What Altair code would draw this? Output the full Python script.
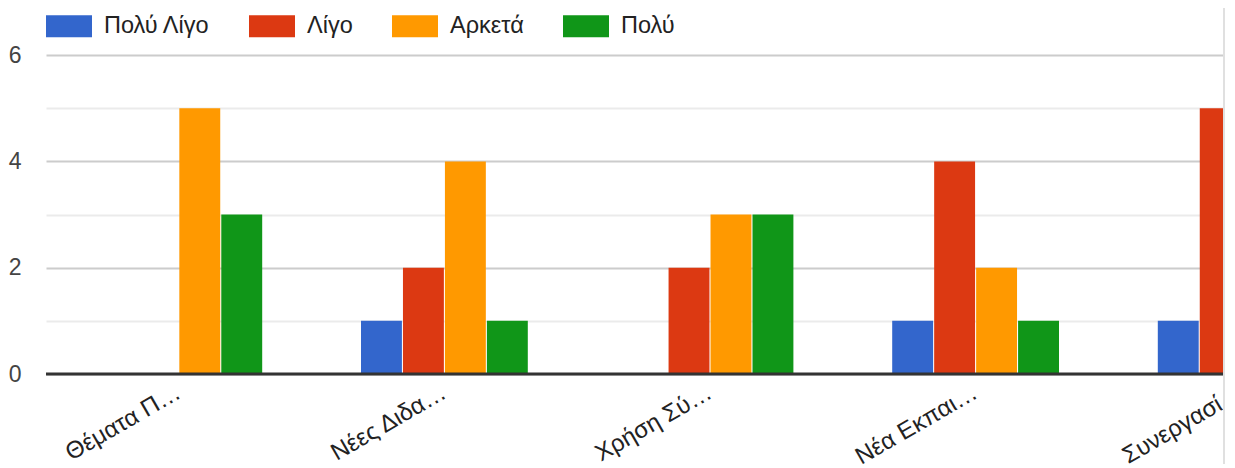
import altair as alt
import pandas as pd

categories = ["Θέματα Π…", "Νέες Διδα…", "Χρήση Σύ…", "Νέα Εκπαι…", "Συνεργασί…"]
series = ["Πολύ Λίγο", "Λίγο", "Αρκετά", "Πολύ"]
values_poly_ligo = [0, 1, 0, 1, 1]
values_ligo = [0, 2, 2, 4, 5]
values_arketa = [5, 4, 3, 2, 1]
values_poly = [3, 1, 3, 1, 1]
colors = ["#3366cc", "#dc3912", "#ff9900", "#109618"]
y_ticks = [0, 1, 2, 3, 4, 5, 6, 7]

rows = []
for i, c in enumerate(categories):
    for s, vals in zip(series, [values_poly_ligo, values_ligo, values_arketa, values_poly]):
        rows.append({"cat": c, "series": s, "value": vals[i]})
df = pd.DataFrame(rows)

W = 1177
H = 372
FONT = "Liberation Sans"

bars = alt.Chart(df).mark_bar(clip=True).encode(
    x=alt.X(
        "cat:N",
        sort=categories,
        scale=alt.Scale(range=[0, 1328], paddingInner=0.372, paddingOuter=0.186),
        axis=alt.Axis(
            title=None, domain=False, ticks=False, grid=False,
            labelAngle=-30, labelAlign="right", labelBaseline="top",
            labelPadding=6, labelOffset=-6, labelFont=FONT, labelFontSize=24,
            labelColor="#222222", labelOverlap=False, labelLimit=400,
        ),
    ),
    xOffset=alt.XOffset("series:N", sort=series, scale=alt.Scale(paddingInner=0.025)),
    y=alt.Y(
        "value:Q",
        scale=alt.Scale(domain=[0, 7], nice=False),
        axis=alt.Axis(
            title=None, domain=False, ticks=False, values=y_ticks,
            labelExpr="datum.value % 2 == 0 ? toString(datum.value) : ''",
            labelFont=FONT, labelFontSize=23, labelColor="#444444", labelPadding=25,
            grid=True, gridWidth=2,
            gridColor={"condition": {"test": "datum.value % 2 == 0", "value": "#cccccc"}, "value": "#ebebeb"},
        ),
    ),
    color=alt.Color(
        "series:N",
        sort=series,
        scale=alt.Scale(domain=series, range=colors),
        legend=alt.Legend(
            title=None, orient="none", legendX=0, legendY=1, direction="horizontal",
            symbolType="M-1,-0.478H1V0.478H-1Z", symbolSize=2116, symbolStrokeWidth=0,
            symbolOpacity=1, labelFont=FONT, labelFontSize=23.5, labelColor="#222222",
            labelOffset=12, columnPadding=39, labelLimit=400,
        ),
    ),
)

baseline = alt.Chart(pd.DataFrame({"y": [0]})).mark_rule(color="#333333", strokeWidth=3).encode(
    y=alt.Y("y:Q")
)

border = alt.Chart(pd.DataFrame({"b": [0]})).mark_rule(color="#e0e0e0", strokeWidth=2).encode(
    x=alt.value(W + 1), y=alt.value(-20), y2=alt.value(H + 120)
)

chart = alt.layer(bars, baseline, border).properties(
    width=W, height=H,
    autosize=alt.AutoSizeParams(type="none"),
    padding={"left": 38, "top": -6, "right": 2, "bottom": 90},
    background="white",
).configure_view(stroke=None)

chart.save("out.html", embed_options={"renderer": "svg", "actions": False})
